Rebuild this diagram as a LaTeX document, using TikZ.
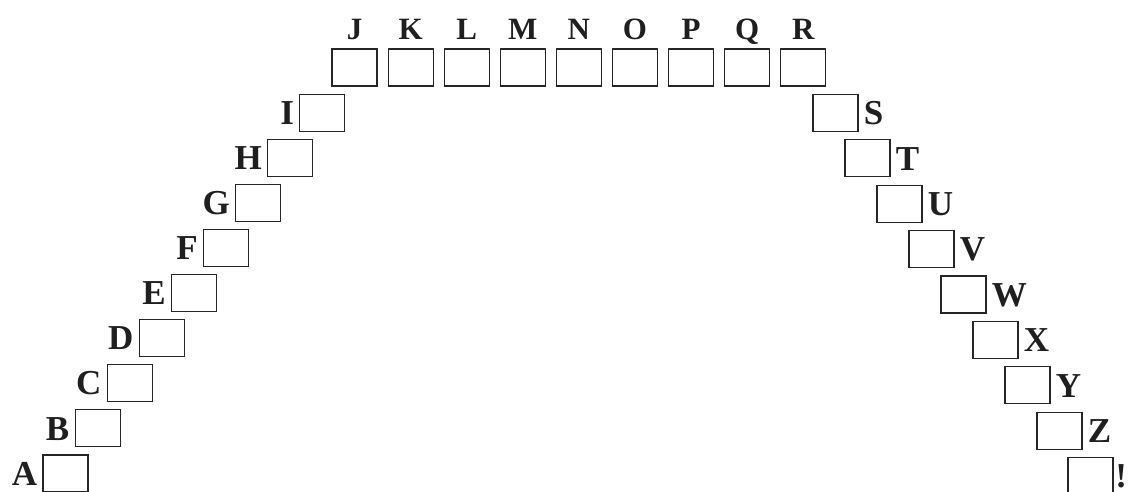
\documentclass[tikz,border=0pt]{standalone}
\usepackage{fontspec}
\setmainfont{Liberation Serif}
\tikzset{
  slot/.style={draw=black!85, line width=1.2pt, minimum width=45pt, minimum height=37pt, inner sep=0pt},
  sidelbl/.style={font=\fontsize{35}{35}\selectfont\bfseries, text=black!88, inner sep=0pt, text height=23.5pt, text depth=0pt},
  toplbl/.style={font=\fontsize{31}{31}\selectfont\bfseries, text=black!88, inner sep=0pt, anchor=base}
}
\begin{document}
\begin{tikzpicture}[x=1pt,y=-1pt]
\useasboundingbox (0,0) rectangle (1129,491);
% left diagonal A..I
\foreach \l [count=\i from 0] in {A,B,C,D,E,F,G,H,I} {
  \node[slot] (b\l) at ({65.5+32.1*\i},{67.5+45.1*(9-\i)}) {};
  \node[sidelbl, anchor=east] (t\l) at ([xshift=-5pt]b\l.west) {\l};
}
% top row J..R
\foreach \l [count=\i from 0] in {J,K,L,M,N,O,P,Q,R} {
  \node[slot] (b\l) at ({354.5+56.1*\i},67.5) {};
  \node[toplbl] (t\l) at ({354.5+56.1*\i},39) {\l};
}
% right diagonal S..!
\foreach \l [count=\i from 1] in {S,T,U,V,W,X,Y,Z} {
  \node[slot] (b\l) at ({803.5+32*\i},{67.5+45.4*\i}) {};
  \node[sidelbl, anchor=west] (t\l) at ([xshift=5pt]b\l.east) {\l};
}
\node[slot] (bEx) at ({802.5+32*9},{67.5+45.4*9}) {};
\node[sidelbl, anchor=west] (tEx) at ([xshift=1.5pt]bEx.east) {!};
\end{tikzpicture}
\end{document}
